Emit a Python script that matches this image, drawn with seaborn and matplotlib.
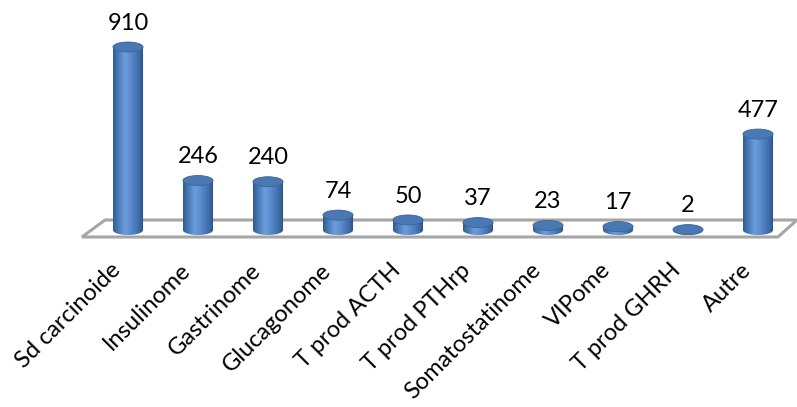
import numpy as np
import pandas as pd
import matplotlib
matplotlib.use("Agg")
import matplotlib.pyplot as plt
import seaborn as sns
from matplotlib.patches import Ellipse, Polygon
from matplotlib.path import Path
from matplotlib.colors import LinearSegmentedColormap
from matplotlib.transforms import ScaledTranslation

categories = ["Sd carcinoide", "Insulinome", "Gastrinome", "Glucagonome", "T prod ACTH",
              "T prod PTHrp", "Somatostatinome", "VIPome", "T prod GHRH", "Autre"]
counts = [910, 246, 240, 74, 50, 37, 23, 17, 2, 477]

df = pd.DataFrame({"type": categories, "n": counts})

sns.set_theme(style="white")
plt.rcParams["font.family"] = ["Lato", "DejaVu Sans"]

W, H = 797, 407
fig = plt.figure(figsize=(W / 100, H / 100), dpi=100)
fig.patch.set_facecolor("white")

# axes box in pixel terms (from top-left)
ax_left, ax_right, ax_top, ax_bot = 93, 793, 0, 245
ax = fig.add_axes([ax_left / W, 1 - ax_bot / H, (ax_right - ax_left) / W, (ax_bot - ax_top) / H])
ax.patch.set_visible(False)

px_per_unit = 183 / 910
base_px = 230
ylo = -(ax_bot - base_px) / px_per_unit
yhi = (base_px - ax_top) / px_per_unit

bar_w = 0.43
sns.barplot(data=df, x="type", y="n", width=bar_w, color="#4F81BD", ax=ax, zorder=2)
ax.set_xlim(-0.5, len(categories) - 0.5)
ax.set_ylim(ylo, yhi)

# floor of the 3D plot area
def fpt(x, y):
    return (x / W, 1 - y / H)

floor = Polygon([fpt(82, 237), fpt(105, 220), fpt(797, 220), fpt(778, 237)], closed=True,
                transform=fig.transFigure, facecolor="white", edgecolor="#A6A6A6",
                linewidth=2.2, zorder=0.5, clip_on=False)
ax.add_patch(floor)

# cylinder shading
cyl_cmap = LinearSegmentedColormap.from_list(
    "cyl", [(0.0, "#2F5A8E"), (0.15, "#4677B5"), (0.38, "#6C9DDA"), (0.55, "#5D8ED0"),
            (0.85, "#3E6BA6"), (1.0, "#2A4E7C")])
grad = np.linspace(0, 1, 256).reshape(1, -1)
ell_h = 10 / px_per_unit

bars = list(ax.patches)
for p in bars:
    if not hasattr(p, "get_x"):
        continue
    x0, w, h = p.get_x(), p.get_width(), p.get_height()
    xc = x0 + w / 2
    p.set_visible(False)
    # outline: sides plus lower half of the bottom ellipse
    t = np.linspace(np.pi, 2 * np.pi, 40)
    arc = np.column_stack([xc + (w / 2) * np.cos(t), (ell_h / 2) * np.sin(t)])
    verts = np.vstack([[x0, h], arc, [x0 + w, h], [x0, h]])
    codes = [Path.MOVETO] + [Path.LINETO] * (len(verts) - 2) + [Path.CLOSEPOLY]
    clip = Path(verts, codes)
    im = ax.imshow(grad, extent=[x0, x0 + w, -ell_h / 2, h], aspect="auto",
                   cmap=cyl_cmap, zorder=2, interpolation="bicubic")
    im.set_clip_path(clip, ax.transData)
    top = Ellipse((xc, h), w, ell_h, facecolor="#4A78B2", edgecolor="#3A659C",
                  linewidth=0.6, zorder=3)
    ax.add_patch(top)

# value labels above the cylinders
for i, v in enumerate(counts):
    ax.annotate(f"{v}", (i, v), xytext=(0, 12.5), textcoords="offset points",
                ha="center", va="baseline", fontsize=17, color="black")

ax.set_xlabel("")
ax.set_ylabel("")
ax.set_yticks([])
ax.tick_params(axis="x", length=0, pad=10.5)
ax.set_xticks(range(len(categories)))
ax.set_xticklabels(categories, rotation=45, ha="right", rotation_mode="anchor",
                   fontsize=17, color="black")
shift = ScaledTranslation(-18 / 100, 0, fig.dpi_scale_trans)
for lab in ax.get_xticklabels():
    lab.set_transform(lab.get_transform() + shift)
for s in ax.spines.values():
    s.set_visible(False)

fig.savefig("out.png", dpi=100, facecolor="white")
